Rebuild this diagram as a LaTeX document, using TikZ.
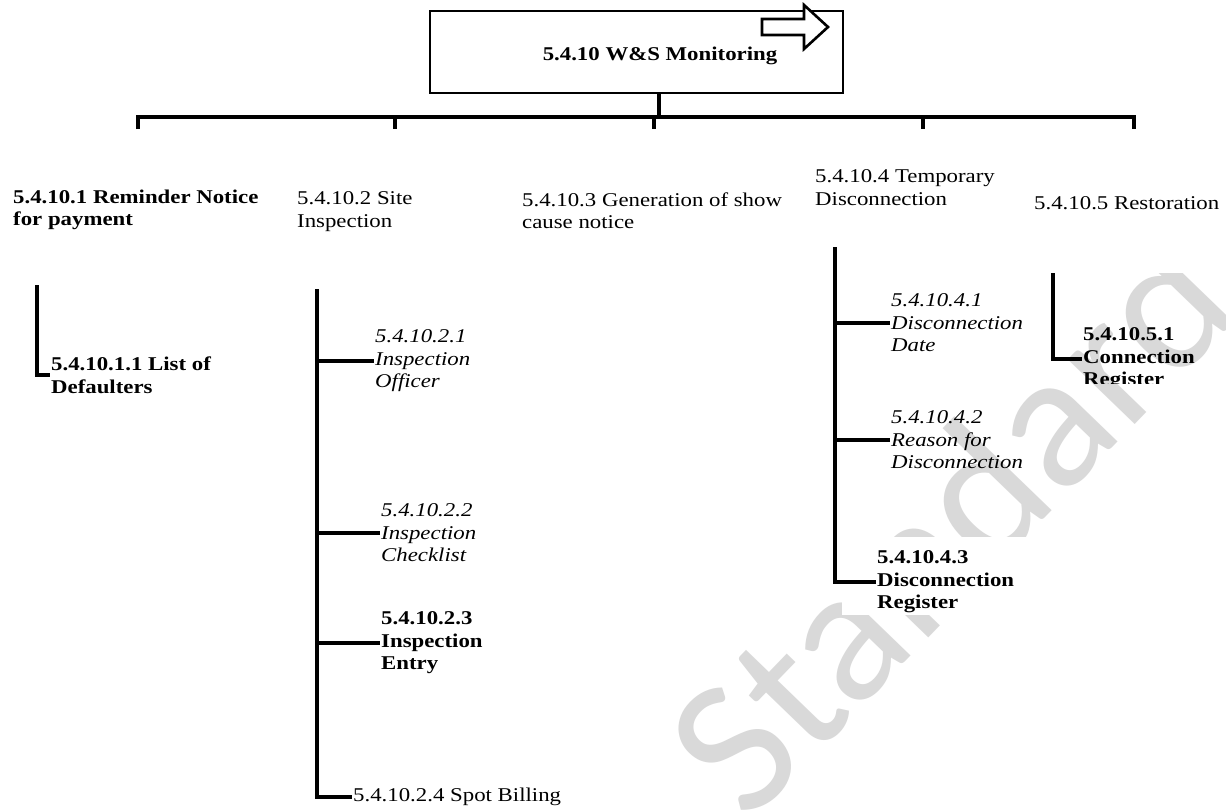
\documentclass[tikz,border=0pt]{standalone}
\usepackage{fontspec}
\setmainfont{Liberation Serif}[FakeStretch=1.17]
\newfontfamily\wmfont{Carlito}
\begin{document}
\begin{tikzpicture}[x=1pt,y=-1pt,
  conn/.style={line width=4.5pt, line join=miter},
  txt/.style={inner sep=1pt, align=left, font=\fontsize{19.5}{22.5}\selectfont},
  txtb/.style={inner sep=1pt, align=left, font=\fontsize{19.5}{22.5}\selectfont\bfseries},
  txti/.style={inner sep=1pt, align=left, font=\fontsize{19.5}{22.5}\selectfont\itshape},
  hdr/.style={txt, anchor=north west, inner sep=0pt},
  hdrb/.style={txtb, anchor=north west, inner sep=0pt}]
\useasboundingbox (0,0) rectangle (1226,811);
\fill[white] (0,0) rectangle (1226,811);

% watermark
\node[rotate=46, inner sep=0pt, font=\wmfont\fontsize{195}{195}\selectfont, text=black!15] (wm) at (948,522) {Standard};
% white text-box backgrounds covering the watermark
\fill[white] (842,537) rectangle (1045,615);
\fill[white] (1028,180) rectangle (1226,273);

% top box
\node[draw, line width=2.5pt, minimum width=413pt, minimum height=82pt, inner sep=0pt] (top) at (636.5,52) {};
\node[txtb, anchor=base, inner sep=0pt] (title) at (660,60) {5.4.10 W\&S Monitoring};
\draw[line width=2.6pt, fill=white, line join=miter] (762,19) -- (804,19) -- (804,5) -- (828,27) -- (804,49) -- (804,35) -- (762,35) -- cycle;

% hub and bar
\coordinate (hub) at (659,117);
\draw[conn] (top.south -| hub) -- (hub);
\draw[conn] (138,129) |- (1134,117) -- (1134,129);
\foreach \x in {395,654,923} \draw[conn] (\x,117) -- (\x,129);

% level 2
\node[hdrb] (n1) at (13,189.5) {5.4.10.1 Reminder Notice\\for payment};
\node[hdr] (n2) at (297,191.5) {5.4.10.2 Site\\Inspection};
\node[hdr] (n3) at (522,192.5) {5.4.10.3 Generation of show\\cause notice};
\node[hdr] (n4) at (815,169.5) {5.4.10.4 Temporary\\Disconnection};
\node[hdr] (n5) at (1034,196.5) {5.4.10.5 Restoration};

% level 3 column 1
\coordinate (c1) at (37,285);
\node[txtb, anchor=west] (n11) at (50,375) {5.4.10.1.1 List of\\Defaulters};
\draw[conn] (c1) |- (n11.west);

% column 2
\coordinate (c2) at (317,289);
\node[txti, anchor=west] (n21) at (374,361) {5.4.10.2.1\\Inspection\\Officer};
\node[txti, anchor=west] (n22) at (380,533) {5.4.10.2.2\\Inspection\\Checklist};
\node[txtb, anchor=west] (n23) at (380,643) {5.4.10.2.3\\Inspection\\Entry};
\node[txt, anchor=west] (n24) at (352,797) {5.4.10.2.4 Spot Billing};
\draw[conn] (c2) |- (n24.west);
\draw[conn] (c2 |- n21.west) -- (n21.west);
\draw[conn] (c2 |- n22.west) -- (n22.west);
\draw[conn] (c2 |- n23.west) -- (n23.west);

% column 4
\coordinate (c4) at (835,247);
\node[txti, anchor=west] (n41) at (890,323) {5.4.10.4.1\\Disconnection\\Date};
\node[txti, anchor=west] (n42) at (890,440) {5.4.10.4.2\\Reason for\\Disconnection};
\node[txtb, anchor=west] (n43) at (876,582) {5.4.10.4.3\\Disconnection\\Register};
\draw[conn] (c4) |- (n43.west);
\draw[conn] (c4 |- n41.west) -- (n41.west);
\draw[conn] (c4 |- n42.west) -- (n42.west);

% column 5
\coordinate (c5) at (1053,273);
\begin{scope}
\clip (1060,250) rectangle (1226,383);
\node[txtb, anchor=west] (n51) at (1082,359) {5.4.10.5.1\\Connection\\Register};
\end{scope}
\draw[conn] (c5) |- (n51.west);
\end{tikzpicture}
\end{document}
